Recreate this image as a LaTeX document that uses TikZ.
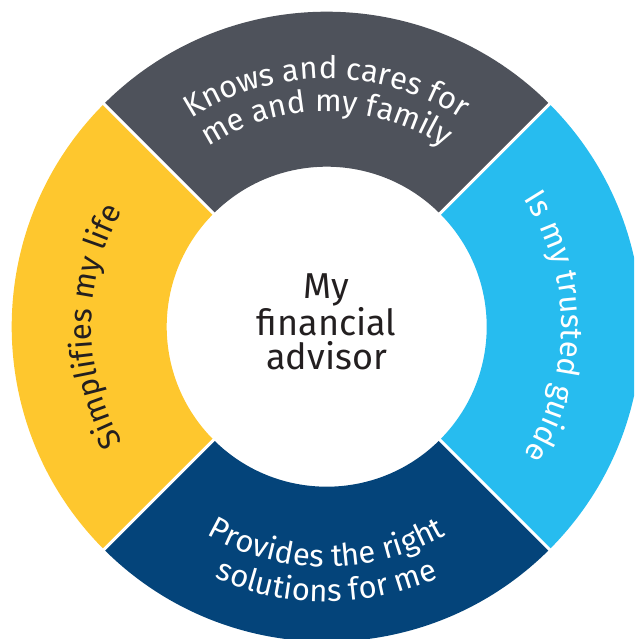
\documentclass[tikz,border=0pt]{standalone}
\usepackage{fontspec}
\setmainfont{Fira Sans}
\usetikzlibrary{decorations.text}
\definecolor{segGray}{HTML}{4E525B}
\definecolor{segSky}{HTML}{27BCEF}
\definecolor{segNavy}{HTML}{04447A}
\definecolor{segGold}{HTML}{FEC72E}
\definecolor{inkDark}{HTML}{231F20}
\newcommand{\ringsector}[3]{% color, start, end
  \fill[#1] (#2:315pt) arc[start angle=#2, end angle=#3, radius=315pt]
    -- (#3:160pt) arc[start angle=#3, end angle=#2, radius=160pt] -- cycle;}
\newcommand{\ringfont}{\fontsize{31}{31}\selectfont}
\tikzset{
  ringtext/.style={decorate, decoration={text along path, text align=center, text={#1}}},
  gapline/.style={draw=white, line width=3pt},
}
\begin{document}
\begin{tikzpicture}[x=1pt,y=1pt]
\useasboundingbox (0,0) rectangle (634,639);
\clip (0,0) rectangle (634,639);
\coordinate (C) at (326.7,312.3);
\begin{scope}[shift={(C)}]
  \ringsector{segGray}{45}{135}
  \ringsector{segGold}{135}{225}
  \ringsector{segNavy}{225}{315}
  \ringsector{segSky}{-45}{45}
  \coordinate (g1a) at (45:150pt);  \coordinate (g1b) at (45:330pt);
  \coordinate (g2a) at (135:150pt); \coordinate (g2b) at (135:330pt);
  \coordinate (g3a) at (225:150pt); \coordinate (g3b) at (225:330pt);
  \coordinate (g4a) at (315:150pt); \coordinate (g4b) at (315:330pt);
  \draw[gapline] (g1a) -- (g1b);
  \draw[gapline] (g2a) -- (g2b);
  \draw[gapline] (g3a) -- (g3b);
  \draw[gapline] (g4a) -- (g4b);
  % top
  \path[ringtext={|\ringfont\color{white}|Knows and cares for}]
    (160:248pt) arc[start angle=160, end angle=20, radius=248pt];
  \path[ringtext={|\ringfont\color{white}|me and my family}]
    (160:215pt) arc[start angle=160, end angle=20, radius=215pt];
  % right
  \path[ringtext={|\ringfont\color{white}|Is my trusted guide}]
    (70:235pt) arc[start angle=70, end angle=-70, radius=235pt];
  % left
  \path[ringtext={|\ringfont\color{inkDark}|Simplifies my life}]
    (250:235pt) arc[start angle=250, end angle=110, radius=235pt];
  % bottom
  \path[ringtext={|\ringfont\color{white}|Provides the right}]
    (200:240pt) arc[start angle=200, end angle=340, radius=240pt];
  \path[ringtext={|\ringfont\color{white}|solutions for me}]
    (200:275pt) arc[start angle=200, end angle=340, radius=275pt];
\end{scope}
\coordinate (T) at (326.7,317);
\node[align=center, text=inkDark, font=\fontsize{36}{34}\selectfont] (center) at (T) {My\\financial\\advisor};
\end{tikzpicture}
\end{document}
